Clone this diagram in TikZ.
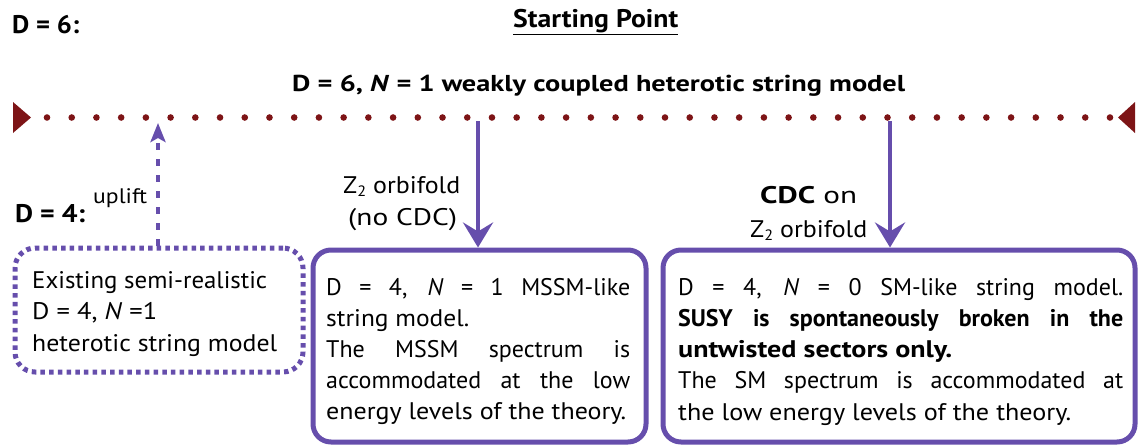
\documentclass[tikz,border=0pt]{standalone}
\usepackage{fontspec}
\usepackage{graphicx}
\setmainfont{PT Sans}
\usetikzlibrary{arrows.meta}
\definecolor{pur}{RGB}{102,78,172}
\definecolor{dred}{RGB}{125,20,22}
\newcommand{\Ztwo}{Z\raisebox{-0.3ex}{\fontsize{15}{15}\selectfont 2}}
\newcommand{\fitw}[2]{\resizebox{#1}{\height}{#2}}
\begin{document}
\begin{tikzpicture}[x=1pt,y=-1pt,
  txt/.style={anchor=base west,inner sep=0pt,font=\fontsize{24}{28}\selectfont},
  lbl/.style={anchor=base,inner sep=0pt,font=\fontsize{24}{28}\selectfont},
  hdr/.style={anchor=base west,inner sep=0pt,font=\fontsize{25.5}{30}\selectfont\bfseries},
  solidbox/.style={draw=pur,line width=5pt,rounded corners=18pt,inner sep=0pt},
  dotbox/.style={draw=pur,line width=5pt,rounded corners=20pt,inner sep=0pt,dash pattern=on 4.5pt off 4.2pt},
  bigarrow/.style={draw=pur,line width=4pt,-{Stealth[length=25pt,width=30pt,inset=9pt]}},
  upar/.style={draw=pur,line width=4.5pt,dash pattern=on 7pt off 9pt,-{Stealth[length=19pt,width=15pt,inset=4pt]}}
]
\useasboundingbox (0,0) rectangle (1139,445);

% headers
\node[hdr] (d6) at (12,33) {\fitw{67pt}{D = 6:}};
\node[hdr,anchor=base west] (sp) at (513,27) {\underline{\fitw{165pt}{Starting Point}}};
\node[hdr,anchor=base west,font=\fontsize{23}{30}\selectfont\bfseries] (title) at (292,91) {\fitw{613pt}{D = 6, \textit{N} = 1 weakly coupled heterotic string model}};
\node[hdr] (d4) at (15,222) {\fitw{70pt}{D = 4:}};
\node[anchor=base west,inner sep=0pt,font=\fontsize{21}{24}\selectfont] (upl) at (93,203) {\fitw{54pt}{uplift}};

% dotted line with end triangles
\coordinate (dl) at (47,117.5);
\coordinate (dr) at (1110.5,117.5);
\fill[dred] (13,102) -- (31,117.5) -- (13,133) -- cycle;
\fill[dred] (1135,102) -- (1118,117.5) -- (1135,133) -- cycle;
\draw[dred,line width=6.6pt,line cap=round,dash pattern=on 0pt off 24.72pt] (dl) -- (dr);

% boxes
\node[dotbox,minimum width=288pt,minimum height=124pt] (lbox) at (159,310) {};
\node[solidbox,minimum width=333pt,minimum height=192pt] (mbox) at (479.5,346) {};
\node[solidbox,minimum width=472pt,minimum height=192pt] (rbox) at (899,346) {};

% arrows
\coordinate (ma) at (478,121);
\coordinate (ra) at (890,121);
\coordinate (ua) at (158,123);
\draw[bigarrow] (ma) -- (ma |- mbox.north);
\draw[bigarrow] (ra) -- (ra |- rbox.north);
\draw[upar] (lbox.north -| ua) -- (ua);

% arrow labels
\node[txt] (z1) at (343,193) {\fitw{117pt}{\Ztwo\ orbifold}};
\node[txt] (z1b) at (348,225) {\fitw{109pt}{(no CDC)}};
\node[txt] (c1) at (760,203) {\fitw{97pt}{\textbf{CDC} on}};
\node[txt] (c2) at (750,237) {\fitw{117pt}{\Ztwo\ orbifold}};

% left box text
\node[txt] (l1) at (32,288) {\fitw{235pt}{Existing semi-realistic}};
\node[txt] (l2) at (32,319) {\fitw{125pt}{D = 4, \textit{N} =1}};
\node[txt] (l3) at (32,351) {\fitw{245pt}{heterotic string model}};

% middle box text
\node[txt] (m1) at (326,295) {\makebox[304pt][s]{D = 4, \textit{N} = 1 MSSM-like}};
\node[txt] (m2) at (326,326) {\fitw{143pt}{string model.}};
\node[txt] (m3) at (326,357) {\makebox[304pt][s]{The MSSM spectrum is}};
\node[txt] (m4) at (326,388) {\makebox[304pt][s]{accommodated at the low}};
\node[txt] (m5) at (326,419) {\fitw{300pt}{energy levels of the theory.}};

% right box text
\node[txt] (r1) at (678,295) {\makebox[445pt][s]{D = 4, \textit{N} = 0 SM-like string model.}};
\node[txt] (r2) at (678,326) {\makebox[445pt][s]{\bfseries SUSY is spontaneously broken in the}};
\node[txt] (r3) at (678,357) {\fitw{274pt}{\bfseries untwisted sectors only.}};
\node[txt] (r4) at (678,388) {\makebox[445pt][s]{The SM spectrum is accommodated at}};
\node[txt] (r5) at (678,420) {\fitw{393pt}{the low energy levels of the theory.}};
\end{tikzpicture}
\end{document}
